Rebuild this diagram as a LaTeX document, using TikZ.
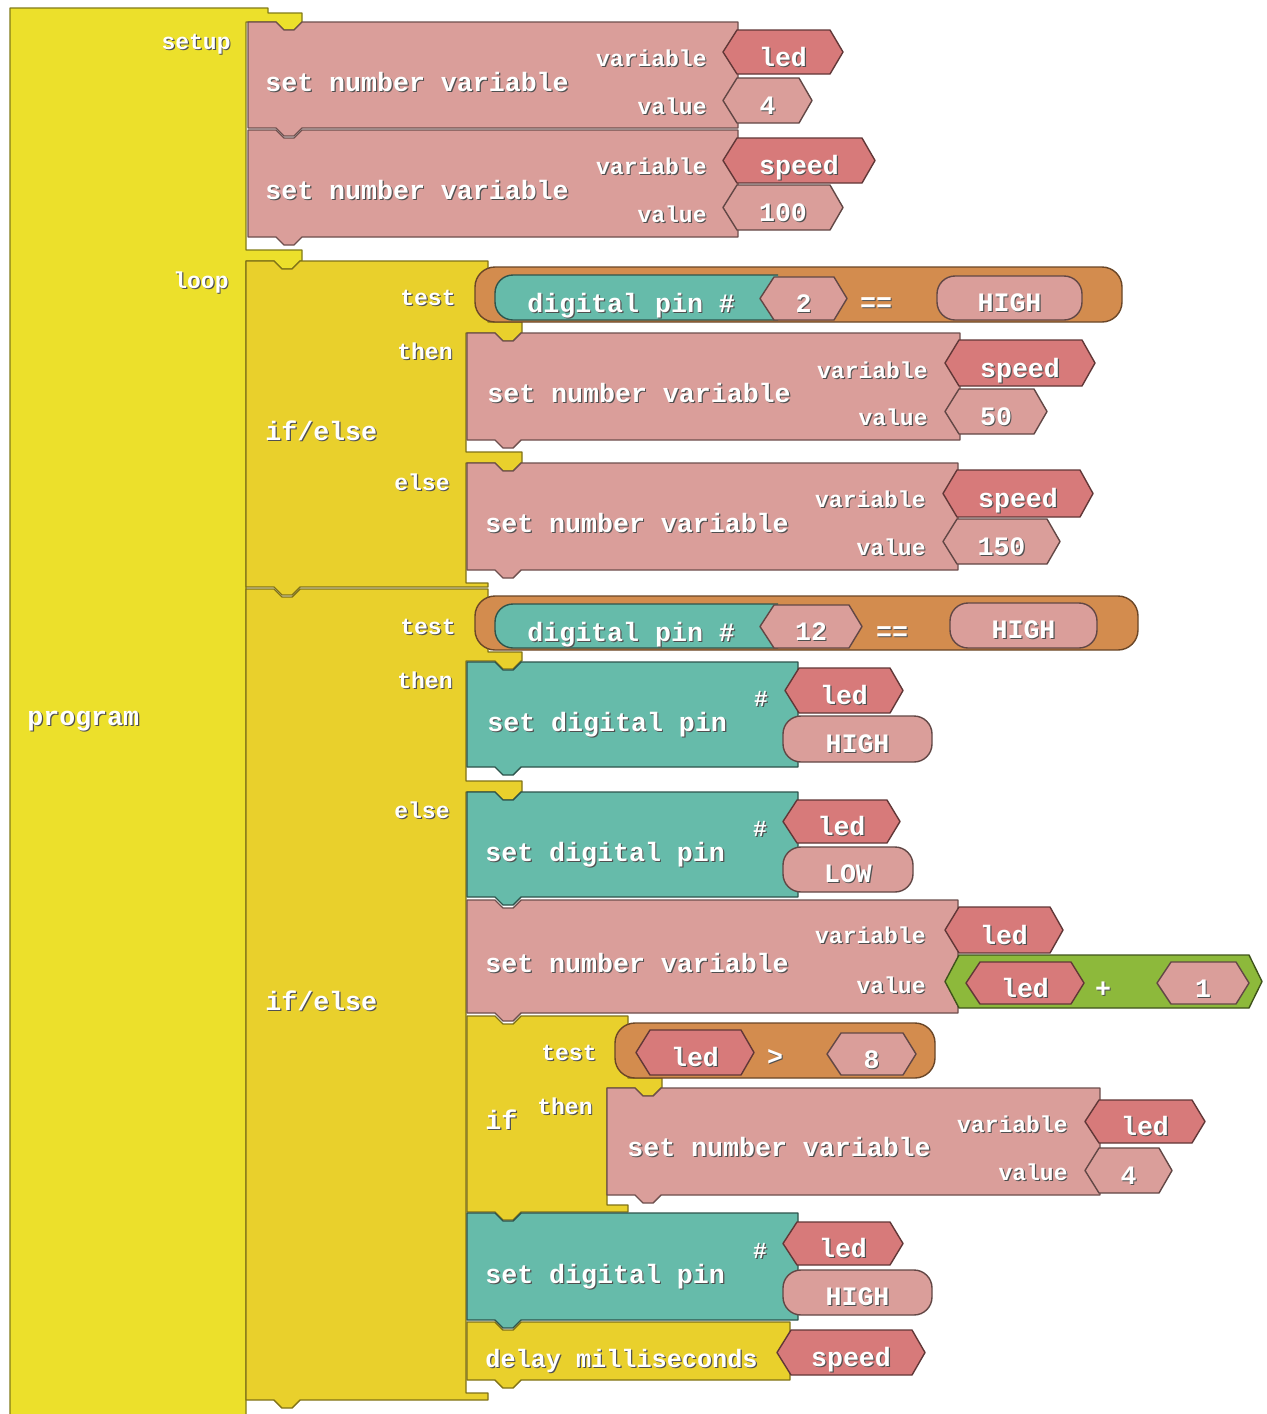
\documentclass[tikz,border=0pt]{standalone}
\usepackage{fontspec}
\usepackage{tikz}
\newfontfamily\blockfont{Liberation Mono}
\newcommand{\blkfont}{\blockfont\bfseries\fontsize{13.3}{16}\selectfont}
\newcommand{\lblfont}{\blockfont\bfseries\fontsize{11.5}{14}\selectfont}

\definecolor{progyellow}{HTML}{ECE02B}
\definecolor{ctrlyellow}{HTML}{E9D02C}
\definecolor{varpink}{HTML}{DA9E9A}
\definecolor{namepink}{HTML}{D77A7A}
\definecolor{pinteal}{HTML}{66BBAA}
\definecolor{logicorange}{HTML}{D38C4E}
\definecolor{mathgreen}{HTML}{8DB93B}
\definecolor{txtshade}{HTML}{505050}

\tikzset{
  blockedge/.style={line width=0.7pt, line join=round},
  prog/.style={blockedge, fill=progyellow, draw=progyellow!55!black},
  ctrlblock/.style={blockedge, fill=ctrlyellow, draw=ctrlyellow!55!black},
  varblock/.style={blockedge, fill=varpink, draw=varpink!50!black},
  pinblock/.style={blockedge, fill=pinteal, draw=pinteal!45!black},
  namesock/.style={blockedge, fill=namepink, draw=namepink!45!black},
  numsock/.style={blockedge, fill=varpink, draw=varpink!45!black},
  logic/.style={blockedge, fill=logicorange, draw=logicorange!50!black},
  mathop/.style={blockedge, fill=mathgreen, draw=mathgreen!45!black},
  btext/.style={text=white, inner sep=0pt, font=\blkfont, text height=9pt, text depth=0pt},
  slotlabel/.style={font=\lblfont, text height=8pt}
}

% white text with a dark shade under it
\newcommand{\btext}[4][]{%
  \node[btext,#1,text=txtshade,xshift=0.6pt,yshift=-0.6pt] at (#3) {#4};
  \node[btext,#1] (#2) at (#3) {#4};}
% statement block with top notch and bottom bump
\newcommand{\stmt}[5]{%
  \filldraw[#1] (#2,#3) -- ({#2+28},#3) -- ({#2+36},{#3+8}) -- ({#2+46},{#3+8}) -- ({#2+54},#3) -- (#4,#3)
    -- (#4,#5) -- ({#2+54},#5) -- ({#2+46},{#5+8}) -- ({#2+36},{#5+8}) -- ({#2+28},#5) -- (#2,#5) -- cycle;}
\newcommand{\hexsock}[7][numsock]{%
  \filldraw[#1] (#3,{(#4+#6)/2}) -- ({#3+14},#4) -- ({#5-13},#4) -- (#5,{(#4+#6)/2}) -- ({#5-13},#6) -- ({#3+14},#6) -- cycle;
  \btext{#2}{{(#3+#5)/2},{(#4+#6)/2+5}}{#7}}
\newcommand{\pillsock}[6]{%
  \filldraw[numsock,rounded corners=9pt] (#2,#3) rectangle (#4,#5);
  \btext{#1}{{(#2+#4)/2},{(#3+#5)/2+4}}{#6}}

\begin{document}
\begin{tikzpicture}[x=0.5pt,y=-0.5pt]
\useasboundingbox (0,0) rectangle (1267,1414);
\fill[white] (0,0) rectangle (1267,1414);

% program
\filldraw[prog] (10,8) -- (268,8) -- (268,13) -- (302,13) -- (302,22) -- (294,30) -- (284,30) -- (276,22) -- (246,22)
  -- (246,250) -- (302,250) -- (302,261) -- (300,261) -- (292,269) -- (282,269) -- (274,261) -- (246,261)
  -- (246,1420) -- (10,1420) -- cycle;
\btext[anchor=west]{program}{27,716}{program}
\btext[slotlabel,anchor=east]{setup}{231,41}{setup}
\btext[slotlabel,anchor=east]{loop}{229,280}{loop}

% setup
\stmt{varblock}{248}{22}{738}{128}
\btext[anchor=west]{setA}{265,82}{set number variable}
\btext[slotlabel,anchor=east]{varA}{707,58}{variable}
\btext[slotlabel,anchor=east]{valA}{707,106}{value}
\hexsock[namesock]{ledA}{723}{30}{843}{74}{led}
\hexsock{fourA}{723}{78}{812}{123}{4}

\stmt{varblock}{248}{130}{738}{237}
\btext[anchor=west]{setB}{265,190}{set number variable}
\btext[slotlabel,anchor=east]{varB}{707,166}{variable}
\btext[slotlabel,anchor=east]{valB}{707,214}{value}
\hexsock[namesock]{speedB}{723}{138}{875}{183}{speed}
\hexsock{hundredB}{723}{185}{843}{230}{100}

% first if/else
\filldraw[ctrlblock] (246,261) -- (274,261) -- (282,269) -- (292,269) -- (300,261) -- (488,261) -- (488,322)
  -- (522,322) -- (522,333) -- (521,333) -- (513,341) -- (503,341) -- (495,333) -- (466,333)
  -- (466,452) -- (522,452) -- (522,463) -- (521,463) -- (513,471) -- (503,471) -- (495,463) -- (466,463)
  -- (466,583) -- (488,583) -- (488,587) -- (300,587) -- (292,595) -- (282,595) -- (274,587) -- (246,587) -- cycle;
\btext[anchor=west]{ifelseA}{265,431}{if/else}
\btext[slotlabel,anchor=east]{testA}{456,297}{test}
\btext[slotlabel,anchor=east]{thenA}{453,351}{then}
\btext[slotlabel,anchor=east]{elseA}{450,482}{else}

\filldraw[logic,rounded corners=10pt] (475,267) rectangle (1122,322);
\filldraw[pinblock,rounded corners=9pt] (778,275) -- (495,275) -- (495,320) -- (778,320);
\btext[anchor=west]{readA}{527,303}{digital pin \#}
\hexsock{pinA}{760}{277}{847}{320}{2}
\btext{eqA}{876,302}{==}
\pillsock{highA}{937}{276}{1082}{320}{HIGH}

\stmt{varblock}{467}{333}{960}{440}
\btext[anchor=west]{setC}{487,393}{set number variable}
\btext[slotlabel,anchor=east]{varC}{928,370}{variable}
\btext[slotlabel,anchor=east]{valC}{928,417}{value}
\hexsock[namesock]{speedC}{945}{340}{1095}{386}{speed}
\hexsock{fiftyC}{945}{389}{1047}{434}{50}

\stmt{varblock}{467}{463}{958}{570}
\btext[anchor=west]{setD}{485,523}{set number variable}
\btext[slotlabel,anchor=east]{varD}{926,499}{variable}
\btext[slotlabel,anchor=east]{valD}{926,547}{value}
\hexsock[namesock]{speedD}{943}{470}{1093}{517}{speed}
\hexsock{hundredD}{943}{519}{1060}{564}{150}

% second if/else
\filldraw[ctrlblock] (246,589) -- (274,589) -- (282,597) -- (292,597) -- (300,589) -- (488,589) -- (488,652)
  -- (522,652) -- (522,661) -- (521,661) -- (513,669) -- (503,669) -- (495,661) -- (466,661)
  -- (466,781) -- (522,781) -- (522,792) -- (521,792) -- (513,800) -- (503,800) -- (495,792) -- (466,792)
  -- (466,1393) -- (488,1393) -- (488,1400) -- (300,1400) -- (292,1408) -- (282,1408) -- (274,1400) -- (246,1400) -- cycle;
\btext[anchor=west]{ifelseB}{265,1001}{if/else}
\btext[slotlabel,anchor=east]{testB}{456,626}{test}
\btext[slotlabel,anchor=east]{thenB}{453,680}{then}
\btext[slotlabel,anchor=east]{elseB}{450,810}{else}

\filldraw[logic,rounded corners=10pt] (475,596) rectangle (1138,650);
\filldraw[pinblock,rounded corners=9pt] (778,604) -- (495,604) -- (495,648) -- (778,648);
\btext[anchor=west]{readB}{527,632}{digital pin \#}
\hexsock{pinB}{760}{605}{862}{648}{12}
\btext{eqB}{892,631}{==}
\pillsock{highB}{950}{603}{1097}{648}{HIGH}

\stmt{pinblock}{467}{662}{798}{767}
\btext[anchor=west]{writeE}{487,722}{set digital pin}
\btext[slotlabel]{hashE}{761,698}{\#}
\hexsock[namesock]{ledE}{785}{668}{903}{713}{led}
\pillsock{highE}{783}{716}{932}{762}{HIGH}

\stmt{pinblock}{467}{792}{798}{897}
\btext[anchor=west]{writeF}{485,852}{set digital pin}
\btext[slotlabel]{hashF}{760,828}{\#}
\hexsock[namesock]{ledF}{783}{800}{900}{843}{led}
\pillsock{lowF}{783}{847}{913}{892}{LOW}

\stmt{varblock}{467}{900}{958}{1013}
\btext[anchor=west]{setG}{485,963}{set number variable}
\btext[slotlabel,anchor=east]{varG}{926,935}{variable}
\btext[slotlabel,anchor=east]{valG}{926,985}{value}
\hexsock[namesock]{ledG}{945}{907}{1063}{953}{led}
\hexsock[mathop]{sumG}{945}{955}{1262}{1008}{}
\hexsock[namesock]{ledH}{966}{962}{1084}{1004}{led}
\btext{plusG}{1103,988}{+}
\hexsock{oneG}{1157}{962}{1249}{1004}{1}

% if
\filldraw[ctrlblock] (467,1016) -- (495,1016) -- (503,1024) -- (513,1024) -- (521,1016) -- (628,1016) -- (628,1078)
  -- (662,1078) -- (662,1088) -- (661,1088) -- (653,1096) -- (643,1096) -- (635,1088) -- (607,1088)
  -- (607,1205) -- (628,1205) -- (628,1212) -- (521,1212) -- (513,1220) -- (503,1220) -- (495,1212) -- (467,1212) -- cycle;
\btext[anchor=west]{ifK}{485,1120}{if}
\btext[slotlabel,anchor=east]{testK}{597,1052}{test}
\btext[slotlabel,anchor=east]{thenK}{593,1106}{then}
\filldraw[logic,rounded corners=10pt] (615,1023) rectangle (935,1078);
\hexsock[namesock]{ledK}{636}{1030}{754}{1075}{led}
\btext{gtK}{775,1056}{>}
\hexsock{eightK}{827}{1033}{916}{1075}{8}

\stmt{varblock}{607}{1088}{1100}{1195}
\btext[anchor=west]{setL}{627,1147}{set number variable}
\btext[slotlabel,anchor=east]{varL}{1068,1124}{variable}
\btext[slotlabel,anchor=east]{valL}{1068,1172}{value}
\hexsock[namesock]{ledL}{1085}{1100}{1205}{1143}{led}
\hexsock{fourL}{1085}{1148}{1172}{1193}{4}

\stmt{pinblock}{467}{1213}{798}{1320}
\btext[anchor=west]{writeM}{485,1274}{set digital pin}
\btext[slotlabel]{hashM}{760,1250}{\#}
\hexsock[namesock]{ledM}{783}{1222}{903}{1265}{led}
\pillsock{highM}{783}{1270}{932}{1315}{HIGH}

\stmt{ctrlblock}{467}{1322}{790}{1380}
\btext[anchor=west,font=\blockfont\bfseries\fontsize{12.6}{15}\selectfont]{delayN}{485,1358}{delay milliseconds}
\hexsock[namesock]{speedN}{777}{1330}{925}{1375}{speed}
\end{tikzpicture}
\end{document}
